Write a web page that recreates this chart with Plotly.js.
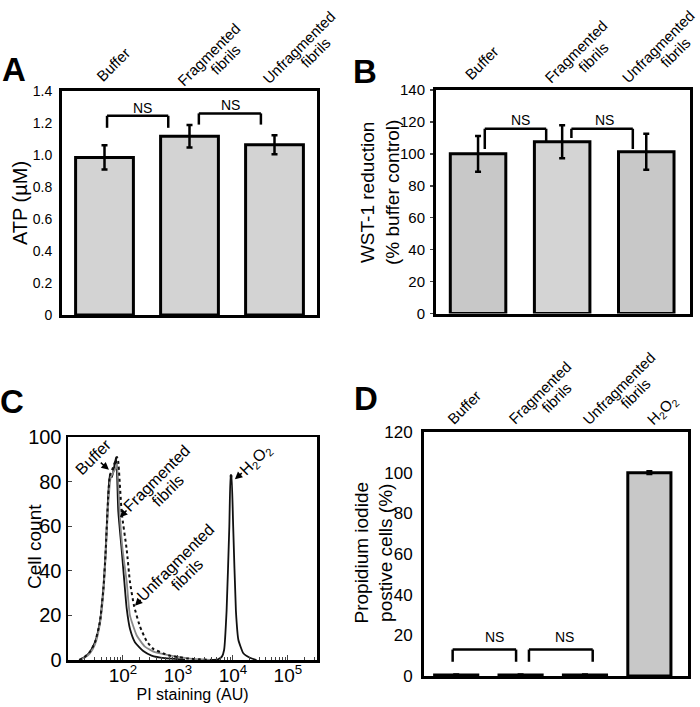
<!DOCTYPE html>
<html>
<head>
<meta charset="utf-8">
<script src="https://cdn.plot.ly/plotly-3.0.1.min.js"></script>
<style>html,body{margin:0;padding:0;background:#fff}#chart{width:700px;height:707px}</style>
</head>
<body>
<div id="chart"></div>
<script>
// ---------- DATA ----------
const categories = ['Buffer', 'Fragmented<br>fibrils', 'Unfragmented<br>fibrils'];
const categoriesD = ['Buffer', 'Fragmented<br>fibrils', 'Unfragmented<br>fibrils', 'H<sub>2</sub>O<sub>2</sub>'];

const atpValues = [0.985, 1.117, 1.064];
const atpErrors = [0.076, 0.070, 0.060];
const atpTickVals = [0, 0.2, 0.4, 0.6, 0.8, 1.0, 1.2, 1.4];
const atpTickText = ['0', '0.2', '0.4', '0.6', '0.8', '1.0', '1.2', '1.4'];

const wstValues = [100, 107.6, 101.3];
const wstErrors = [11.2, 10.3, 11.3];
const wstTickVals = [0, 20, 40, 60, 80, 100, 120, 140];

const piValues = [0.5, 0.5, 0.5, 100];
const piErrors = [0.2, 0.2, 0.2, 0.7];
const piTickVals = [0, 20, 40, 60, 80, 100, 120];

// flow cytometry histograms (PI staining AU, cell count)
const bufferX = [16, 20, 25, 31, 38, 44, 48, 54, 58, 63, 75, 82, 95, 106, 117, 134, 165, 234, 331, 575, 1349];
const bufferY = [0, 1.3, 3.6, 8, 17, 32, 47, 74, 83, 82, 91, 67, 49, 35, 23, 14, 8, 4, 2, 0.8, 0.2];
const fragX = [16, 20, 25, 31, 38, 44, 48, 54, 60, 74, 78, 88, 98, 117, 134, 178, 251, 380, 575, 955, 1660, 3800];
const fragY = [0, 1, 3, 7, 16, 30, 45, 70, 82, 86, 88, 64, 50, 35, 20, 11, 6, 3.5, 2.5, 1.5, 0.6, 0];
const unfragX = [16, 20, 25, 31, 38, 44, 48, 54, 58, 63, 78, 82, 95, 117, 134, 160, 204, 269, 355, 537, 716, 1096, 1445, 2500, 4700];
const unfragY = [0, 1.3, 3.6, 8, 17, 32, 47, 74, 83, 85, 91, 89, 66, 49.5, 35, 24, 15, 8.5, 5, 3, 1.9, 1.2, 0.7, 0.3, 0];
const h2o2X = [3981, 5370, 6310, 6918, 7674, 8610, 9016, 9290, 9506, 10116, 11350, 12589, 15488, 20417, 26915];
const h2o2Y = [0, 0.3, 1.5, 4.5, 22, 60, 83, 79, 83, 60, 22, 9, 3, 1, 0];
const histLabels = ['Buffer', 'Fragmented<br>fibrils', 'Unfragmented<br>fibrils', 'H<sub>2</sub>O<sub>2</sub>'];
const cTickVals = [100, 1000, 10000, 100000];
const cTickText = ['10<sup>2</sup>', '10<sup>3</sup>', '10<sup>4</sup>', '10<sup>5</sup>'];
const cYTickVals = [0, 20, 40, 60, 80, 100];

// ---------- STYLE ----------
const FONT = 'Liberation Sans, Arial, Helvetica, sans-serif';
const BLACK = '#000';

const errStyle = (arr) => ({type: 'data', array: arr, visible: true, color: BLACK, thickness: 2.5, width: 3});
const idx = arr => arr.map((c, i) => i);

const traces = [
  {type: 'bar', x: idx(categories), y: atpValues, error_y: errStyle(atpErrors),
   width: 0.68, marker: {color: '#d3d3d3', line: {color: BLACK, width: 3}},
   xaxis: 'x', yaxis: 'y', name: 'ATP', showlegend: false},
  {type: 'bar', x: idx(categories), y: wstValues, error_y: errStyle(wstErrors),
   width: 0.66, marker: {color: ['#c8c8c8', '#d4d4d4', '#c8c8c8'], line: {color: BLACK, width: 3}},
   xaxis: 'x2', yaxis: 'y2', name: 'WST-1', showlegend: false},
  {type: 'scatter', mode: 'lines', x: bufferX, y: bufferY, line: {color: '#111', width: 1.8, shape: 'spline', smoothing: 0.5},
   xaxis: 'x3', yaxis: 'y3', name: 'Buffer', showlegend: false},
  {type: 'scatter', mode: 'lines', x: fragX, y: fragY, line: {color: '#8a8a8a', width: 1.8, shape: 'spline', smoothing: 0.5},
   xaxis: 'x3', yaxis: 'y3', name: 'Fragmented fibrils', showlegend: false},
  {type: 'scatter', mode: 'lines', x: unfragX, y: unfragY, line: {color: '#111', width: 2, dash: 'dot', shape: 'spline', smoothing: 0.5},
   xaxis: 'x3', yaxis: 'y3', name: 'Unfragmented fibrils', showlegend: false},
  {type: 'scatter', mode: 'lines', x: h2o2X, y: h2o2Y, line: {color: '#111', width: 1.8, shape: 'spline', smoothing: 0.4},
   xaxis: 'x3', yaxis: 'y3', name: 'H2O2', showlegend: false},
  {type: 'bar', x: idx(categoriesD), y: piValues, error_y: errStyle(piErrors),
   width: 0.67, marker: {color: '#c8c8c8', line: {color: BLACK, width: 3}},
   xaxis: 'x4', yaxis: 'y4', name: 'PI positive', showlegend: false}
];

// panel geometry in pixels [left, right, top, bottom]
const W = 700, H = 707;
const geo = {
  A: [62, 317, 91, 315],
  B: [436, 690, 90, 313.5],
  C: [68, 317, 437, 660],
  D: [424, 688, 432, 676]
};
const xd = g => [g[0] / W, g[1] / W];
const yd = g => [1 - g[3] / H, 1 - g[2] / H];

const frame = {showline: true, mirror: true, linecolor: BLACK, linewidth: 3, showgrid: false, zeroline: false, fixedrange: true};

const catAxis = (g, cats, anchor, xmax) => Object.assign({}, frame, {
  domain: xd(g), anchor: anchor, range: [-0.5, xmax],
  tickmode: 'array', tickvals: idx(cats), ticktext: cats, showticklabels: false, ticks: ''
});

const layout = {
  width: W, height: H, margin: {l: 0, r: 0, t: 0, b: 0},
  paper_bgcolor: '#fff', plot_bgcolor: '#fff',
  font: {family: FONT, color: BLACK},
  showlegend: false,
  xaxis: catAxis(geo.A, categories, 'y', 2.5),
  yaxis: Object.assign({}, frame, {domain: yd(geo.A), anchor: 'x', range: [0, 1.4],
    tickmode: 'array', tickvals: atpTickVals, ticktext: atpTickText, ticks: '', tickfont: {size: 14},
    ticklabelstandoff: 4,
    title: {text: 'ATP (\u00b5M)', font: {size: 20}, standoff: 0}}),
  xaxis2: catAxis(geo.B, categories, 'y2', 2.52),
  yaxis2: Object.assign({}, frame, {domain: yd(geo.B), anchor: 'x2', range: [0, 140],
    tickmode: 'array', tickvals: wstTickVals, ticks: 'outside', ticklen: 3, tickwidth: 1.5, tickfont: {size: 15},
    ticklabelstandoff: 2}),
  xaxis3: Object.assign({}, frame, {domain: xd(geo.C), anchor: 'y3', type: 'log', range: [1, 5.53],
    linewidth: 2.5, tickmode: 'array', tickvals: cTickVals, ticktext: cTickText, ticks: 'inside', ticklen: 5, tickwidth: 1,
    tickfont: {size: 19}, ticklabelstandoff: -3,
    minor: {ticks: 'inside', ticklen: 3, tickwidth: 1, tickcolor: '#444', dtick: 'D1', showgrid: false},
    title: {text: 'PI staining (AU)', font: {size: 16}, standoff: 0}}),
  yaxis3: Object.assign({}, frame, {domain: yd(geo.C), anchor: 'x3', range: [0, 100], linewidth: 2.5,
    tickmode: 'array', tickvals: cYTickVals, ticks: 'inside', ticklen: 4, tickwidth: 1, tickfont: {size: 20}}),
  xaxis4: catAxis(geo.D, categoriesD, 'y4', 3.6),
  yaxis4: Object.assign({}, frame, {domain: yd(geo.D), anchor: 'x4', range: [0, 120],
    tickmode: 'array', tickvals: piTickVals, ticks: '', tickfont: {size: 17}, ticklabelstandoff: 5}),
  shapes: [],
  annotations: []
};

// significance brackets
function bracket(xa, ya, x0, x1, yTop, yL, yR) {
  const s = {type: 'line', xref: xa, yref: ya, line: {color: BLACK, width: 2.5}};
  layout.shapes.push(Object.assign({}, s, {x0: x0, x1: x0, y0: yL, y1: yTop}));
  layout.shapes.push(Object.assign({}, s, {x0: x0, x1: x1, y0: yTop, y1: yTop}));
  layout.shapes.push(Object.assign({}, s, {x0: x1, x1: x1, y0: yTop, y1: yR}));
}
function ns(xa, ya, x, y) {
  layout.annotations.push({xref: xa, yref: ya, x: x, y: y, text: 'NS', showarrow: false,
    font: {size: 14}, xanchor: 'center', yanchor: 'middle'});
}
bracket('x', 'y', 0.03, 0.75, 1.245, 1.17, 1.17);
bracket('x', 'y', 1.11, 1.84, 1.26, 1.19, 1.19);
ns('x', 'y', 0.45, 1.295); ns('x', 'y', 1.48, 1.31);
bracket('x2', 'y2', 0.08, 0.81, 115.7, 103, 108);
bracket('x2', 'y2', 1.11, 1.84, 115.7, 110, 103);
ns('x2', 'y2', 0.5, 121); ns('x2', 'y2', 1.5, 121);
bracket('x4', 'y4', -0.055, 0.93, 13, 7, 7);
bracket('x4', 'y4', 1.13, 2.12, 13, 7, 7);
ns('x4', 'y4', 0.59, 19); ns('x4', 'y4', 1.68, 19);

// rotated (-45 deg) multi-line text: each line is its own annotation so its box fits the glyphs.
// first line centred at (x,y)+(dx,dy) px; next lines step down-right across the text direction.
// optional arrow: first line is drawn at an offset from the tip (x,y) and an arrow points to it.
function rotLabel(xa, ya, x, y, text, dx, dy, size, along, arrow) {
  const lines = text.split('<br>');
  const step = 0.7071 * 16;
  lines.forEach((ln, k) => {
    const sx = dx + k * (step + 0.7071 * along);
    const sy = dy + k * (step - 0.7071 * along);
    const a = {xref: xa, yref: ya, x: x, y: y, text: ln, textangle: -45, font: {size: size},
      xanchor: 'center', yanchor: 'middle'};
    if (arrow && k === 0) {
      Object.assign(a, {showarrow: true, ax: sx, ay: sy, arrowhead: 2, arrowsize: 1, arrowwidth: 1.5,
        arrowcolor: BLACK, standoff: 0, startstandoff: 0, borderpad: 0});
    } else {
      Object.assign(a, {showarrow: false, xshift: sx, yshift: -sy});
    }
    layout.annotations.push(a);
  });
}
function topLabels(xa, ya, yTop, cats, offs) {
  cats.forEach((c, i) => rotLabel(xa, ya, i, yTop, c, offs[i][0], offs[i][1], 15, 8, false));
}
topLabels('x', 'y', 1.4, categories, [[8.5, -27], [19, -37], [24, -44]]);
topLabels('x2', 'y2', 140, categories, [[4, -27], [14, -38], [12, -43]]);
topLabels('x4', 'y4', 120, categoriesD, [[7.5, -25], [19, -40], [33.5, -44], [13, -22]]);

// y titles placed as text (two-line titles sit close to the tick labels)
function vtitle(text, cx, cy, size) {
  layout.annotations.push({xref: 'paper', yref: 'paper', x: cx / W, y: 1 - cy / H, text: text,
    textangle: -90, showarrow: false, font: {size: size}, xanchor: 'center', yanchor: 'middle'});
}
vtitle('WST-1 reduction<br>(% buffer control)', 380, 192, 19);
vtitle('Propidium iodide<br>postive cells (%)', 373, 552.5, 19);
vtitle('Cell count', 34, 547, 19);

// panel C: labels with arrows; arrow tip in axis units (log10 for x), label offset in px
const cArrowTips = [[1.745, 85.3], [1.945, 64], [2.218, 24.3], [4.036, 81]];
const cLabelOffsets = [[-15, -13], [36.7, -38.3], [40.7, -43], [20.7, -18.6]];
histLabels.forEach((t, i) => {
  rotLabel('x3', 'y3', cArrowTips[i][0], cArrowTips[i][1], t, cLabelOffsets[i][0], cLabelOffsets[i][1], 16, 0, true);
});

// panel letters
[['A', 14, 69], ['B', 365, 71], ['C', 12, 401], ['D', 366, 399]].forEach(p => {
  layout.annotations.push({xref: 'paper', yref: 'paper', x: p[1] / W, y: 1 - p[2] / H, text: '<b>' + p[0] + '</b>',
    showarrow: false, font: {size: 33}, xanchor: 'center', yanchor: 'middle'});
});

Plotly.newPlot('chart', traces, layout, {staticPlot: true, displayModeBar: false});
</script>
</body>
</html>
